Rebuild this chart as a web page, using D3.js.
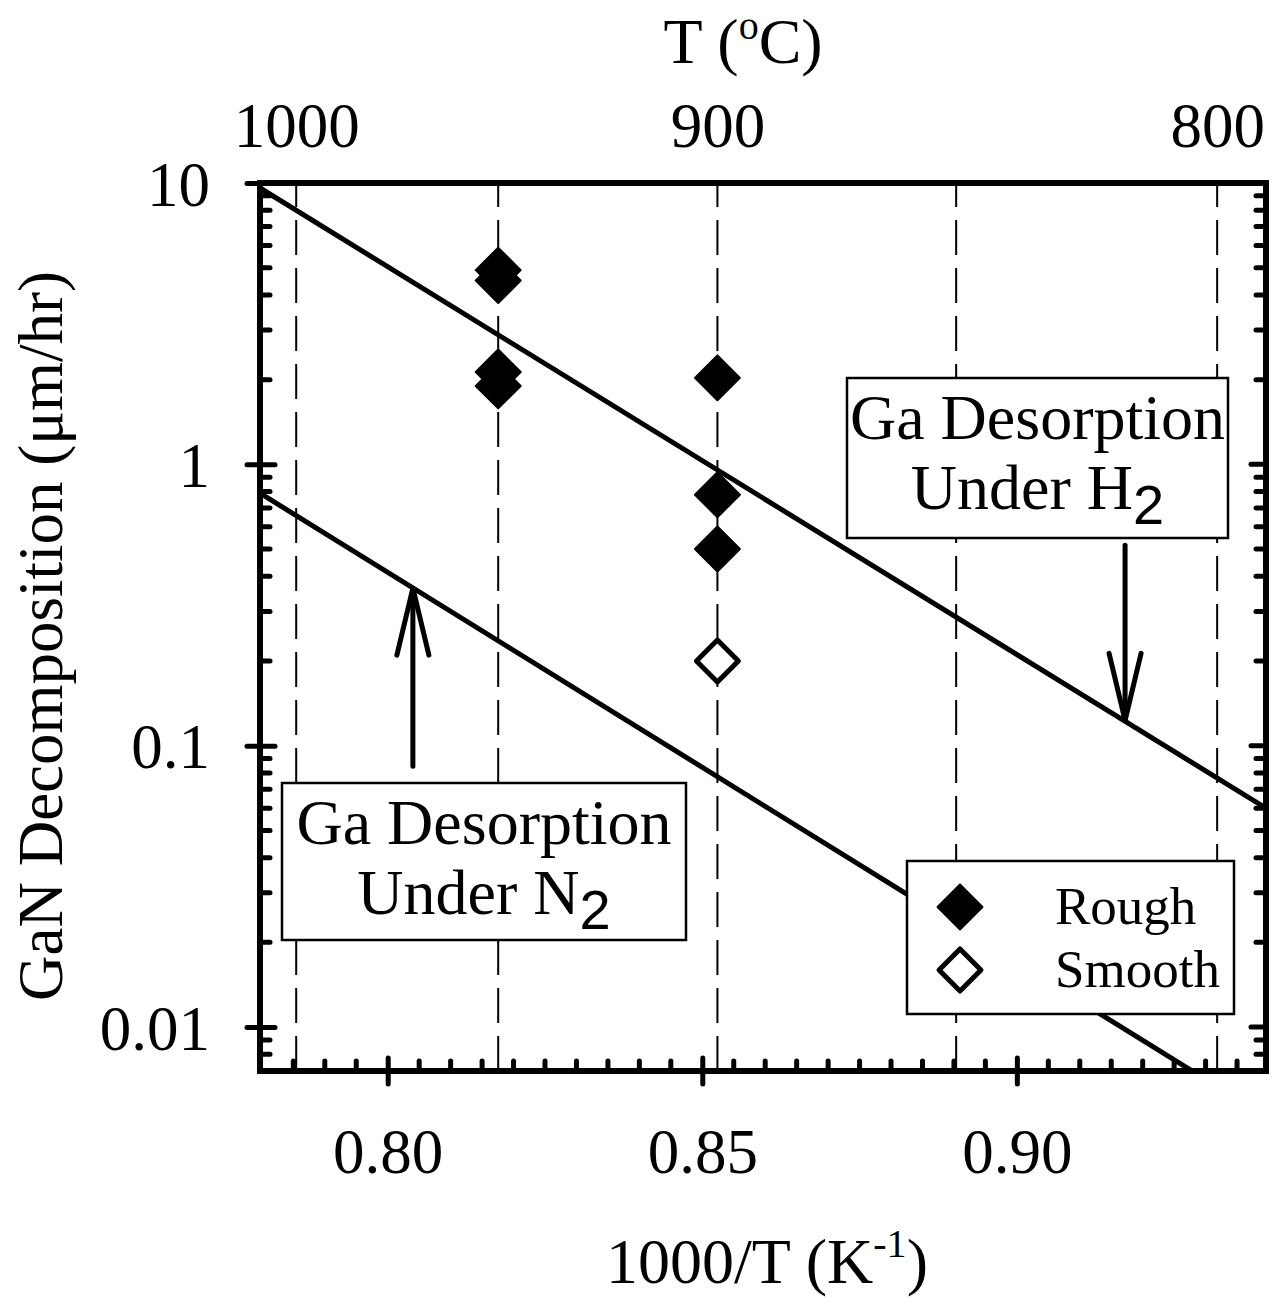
<!DOCTYPE html>
<html>
<head>
<meta charset="utf-8">
<script src="https://cdn.jsdelivr.net/npm/d3@7"></script>
<style>
  body { margin: 0; background: #fff; }
  text { font-family: "Liberation Serif", "Times New Roman", serif; fill: #000; }
</style>
</head>
<body>
<svg id="chart"></svg>
<script>
// bottom axis, 1000/T (K^-1)
var xMajorTicks = [0.80, 0.85, 0.90];
// left axis, decomposition rate (um/hr)
var yMajorTicks = [0.01, 0.1, 1, 10];
// top axis, temperature (deg C)
var tempTicks = [1000, 950, 900, 850, 800];
var tempLabels = [1000, 900, 800];

// measured points: Rough (filled) and Smooth (open)
var roughTemp = [950, 950, 950, 950, 900, 900, 900];
var roughRate = [4.9, 4.5, 2.13, 1.9, 2.03, 0.78, 0.50];
var smoothTemp = [900];
var smoothRate = [0.20];

// Ga desorption lines (1000/T, rate)
var h2LineX = [0.7797, 0.9396];
var h2LineY = [9.6, 0.060];
var n2LineX = [0.7797, 0.9396];
var n2LineY = [0.79, 0.0048];

window.onload = function () {
  var width = 1274, height = 1310;
  var margin = {top: 183, right: 8, bottom: 239, left: 260};
  var pw = width - margin.left - margin.right;
  var ph = height - margin.top - margin.bottom;
  var left = margin.left, top = margin.top, right = left + pw, bottom = top + ph;

  var svg = d3.select("#chart")
      .attr("width", width)
      .attr("height", height);
  svg.append("rect").attr("width", width).attr("height", height).attr("fill", "#fff");

  var x = d3.scaleLinear().domain([0.7797, 0.9396]).range([left, right]);
  var y = d3.scaleLog().domain([0.00698, 10]).range([bottom, top]);
  var invT = function (t) { return 1000 / (t + 273.15); };

  svg.append("clipPath").attr("id", "plotclip")
    .append("rect").attr("x", left).attr("y", top).attr("width", pw).attr("height", ph);

  // dashed temperature grid
  svg.append("g").selectAll("line")
      .data(tempTicks)
    .enter().append("line")
      .attr("x1", function(d) { return x(invT(d)); })
      .attr("x2", function(d) { return x(invT(d)); })
      .attr("y1", bottom).attr("y2", top)
      .attr("stroke", "#000")
      .attr("stroke-width", 2)
      .attr("stroke-dasharray", "35,13");

  // desorption lines
  var line = d3.line()
      .x(function(d) { return x(d[0]); })
      .y(function(d) { return y(d[1]); });
  var fits = [d3.zip(h2LineX, h2LineY), d3.zip(n2LineX, n2LineY)];
  svg.append("g").attr("clip-path", "url(#plotclip)")
    .selectAll("path")
      .data(fits)
    .enter().append("path")
      .attr("d", line)
      .attr("fill", "none")
      .attr("stroke", "#000")
      .attr("stroke-width", 5);

  // diamonds
  var diamond = d3.symbol().type(d3.symbolSquare);
  svg.append("g").selectAll("path")
      .data(d3.zip(roughTemp, roughRate))
    .enter().append("path")
      .attr("d", diamond.size(1010)())
      .attr("transform", function(d) { return "translate(" + x(invT(d[0])) + "," + y(d[1]) + ") rotate(45)"; })
      .attr("fill", "#000")
      .attr("stroke", "#000")
      .attr("stroke-width", 2)
      .attr("stroke-linejoin", "round");
  svg.append("g").selectAll("path")
      .data(d3.zip(smoothTemp, smoothRate))
    .enter().append("path")
      .attr("d", diamond.size(880)())
      .attr("transform", function(d) { return "translate(" + x(invT(d[0])) + "," + y(d[1]) + ") rotate(45)"; })
      .attr("fill", "#fff")
      .attr("stroke", "#000")
      .attr("stroke-width", 5)
      .attr("stroke-linejoin", "round");

  // annotation boxes
  var notes = [
    {x: 847, y: 378, w: 381, h: 160, gas: "H"},
    {x: 282, y: 783, w: 404, h: 157, gas: "N"}
  ];
  var note = svg.append("g").selectAll("g")
      .data(notes)
    .enter().append("g")
      .attr("transform", function(d) { return "translate(" + d.x + "," + d.y + ")"; });
  note.append("rect")
      .attr("width", function(d) { return d.w; })
      .attr("height", function(d) { return d.h; })
      .attr("fill", "#fff")
      .attr("stroke", "#000")
      .attr("stroke-width", 2.5);
  note.append("text")
      .attr("x", function(d) { return d.w / 2; })
      .attr("y", 61)
      .attr("text-anchor", "middle")
      .style("font-size", "64px")
      .text("Ga Desorption");
  var under = note.append("text")
      .attr("x", function(d) { return d.w / 2; })
      .attr("y", 131)
      .attr("text-anchor", "middle")
      .style("font-size", "64px");
  under.append("tspan").text(function(d) { return "Under " + d.gas; });
  under.append("tspan")
      .attr("dy", 15)
      .style("font-family", "'Liberation Sans', Arial, sans-serif")
      .style("font-size", "56px")
      .text("2");

  // arrows pointing at the lines
  var arrows = [
    {x: 0.9172, from: 0.516, to: 0.123},
    {x: 0.8040, from: 0.0846, to: 0.363}
  ];
  var arrow = svg.append("g").selectAll("g")
      .data(arrows)
    .enter().append("g")
      .attr("fill", "none")
      .attr("stroke", "#000")
      .attr("stroke-width", 5)
      .attr("stroke-linecap", "round")
      .attr("stroke-linejoin", "round");
  arrow.append("line")
      .attr("x1", function(d) { return x(d.x); })
      .attr("x2", function(d) { return x(d.x); })
      .attr("y1", function(d) { return y(d.from); })
      .attr("y2", function(d) { return y(d.to); });
  arrow.append("path")
      .attr("d", function(d) {
        var tx = x(d.x), ty = y(d.to);
        var s = y(d.from) > ty ? 1 : -1;
        return "M" + (tx - 16) + "," + (ty + s * 67) + "L" + tx + "," + ty + "L" + (tx + 16) + "," + (ty + s * 67);
      });

  // legend
  var legend = svg.append("g").attr("transform", "translate(907,861)");
  legend.append("rect")
      .attr("width", 327).attr("height", 153)
      .attr("fill", "#fff").attr("stroke", "#000").attr("stroke-width", 2.5);
  var legendItems = [
    {name: "Rough", fill: "#000", size: 1010, sw: 2},
    {name: "Smooth", fill: "#fff", size: 880, sw: 5}
  ];
  var li = legend.selectAll("g.item")
      .data(legendItems)
    .enter().append("g")
      .attr("class", "item")
      .attr("transform", function(d, i) { return "translate(0," + (46 + i * 63) + ")"; });
  li.append("path")
      .attr("d", function(d) { return diamond.size(d.size)(); })
      .attr("transform", "translate(53,0) rotate(45)")
      .attr("fill", function(d) { return d.fill; })
      .attr("stroke", "#000")
      .attr("stroke-width", function(d) { return d.sw; })
      .attr("stroke-linejoin", "round");
  li.append("text")
      .attr("x", 148)
      .attr("y", 17)
      .style("font-size", "53px")
      .text(function(d) { return d.name; });

  // frame
  svg.append("rect")
      .attr("x", left).attr("y", top).attr("width", pw).attr("height", ph)
      .attr("fill", "none").attr("stroke", "#000").attr("stroke-width", 6);

  var tickStyle = function (sel) {
    sel.attr("stroke", "#000").attr("stroke-width", 5).attr("stroke-linecap", "round");
  };

  // bottom axis
  var xMinor = d3.range(0.785, 0.9396, 0.005).filter(function(v) {
    return xMajorTicks.every(function(m) { return Math.abs(m - v) > 1e-6; });
  });
  svg.append("g").selectAll("line").data(xMinor).enter().append("line")
      .attr("x1", x).attr("x2", x)
      .attr("y1", bottom).attr("y2", bottom - 10)
      .call(tickStyle);
  var xAxis = svg.append("g")
      .attr("transform", "translate(0," + bottom + ")")
      .call(d3.axisBottom(x).tickValues(xMajorTicks).tickFormat(d3.format(".2f")).tickSize(13));
  xAxis.select(".domain").remove();
  xAxis.selectAll(".tick line").attr("y1", -13).call(tickStyle);
  xAxis.selectAll(".tick text")
      .attr("y", 102).attr("dy", 0)
      .style("font-family", "'Liberation Serif', serif")
      .style("font-size", "63px");

  // left / right axes
  var yMinor = [];
  [0.001, 0.01, 0.1, 1].forEach(function(dec) {
    for (var k = 2; k <= 9; k++) {
      var v = dec * k;
      if (v >= 0.00698 && v < 10) yMinor.push(v);
    }
  });
  svg.append("g").selectAll("line").data(yMinor).enter().append("line")
      .attr("x1", left).attr("x2", left + 10)
      .attr("y1", y).attr("y2", y)
      .call(tickStyle);
  svg.append("g").selectAll("line").data(yMinor).enter().append("line")
      .attr("x1", right).attr("x2", right - 10)
      .attr("y1", y).attr("y2", y)
      .call(tickStyle);
  svg.append("g").selectAll("line").data(yMajorTicks).enter().append("line")
      .attr("x1", right).attr("x2", right - 15)
      .attr("y1", y).attr("y2", y)
      .call(tickStyle);
  var yAxis = svg.append("g")
      .attr("transform", "translate(" + left + ",0)")
      .call(d3.axisLeft(y).tickValues(yMajorTicks).tickFormat(d3.format("~g")).tickSize(13));
  yAxis.select(".domain").remove();
  yAxis.selectAll(".tick line").attr("x1", 15).call(tickStyle);
  yAxis.selectAll(".tick text")
      .attr("x", -50).attr("dy", 22)
      .style("font-family", "'Liberation Serif', serif")
      .style("font-size", "63px");

  // top temperature axis (labels only)
  var topAxis = svg.append("g")
      .attr("transform", "translate(0," + top + ")")
      .call(d3.axisTop(x).tickValues(tempLabels.map(invT))
        .tickFormat(function(d) { return Math.round(1000 / d - 273.15); }).tickSize(0));
  topAxis.select(".domain").remove();
  topAxis.selectAll(".tick text")
      .attr("y", -36).attr("dy", 0)
      .style("font-family", "'Liberation Serif', serif")
      .style("font-size", "63px");

  // axis titles
  var tTitle = svg.append("text")
      .attr("x", 743).attr("y", 63)
      .attr("text-anchor", "middle")
      .style("font-size", "64px");
  tTitle.append("tspan").text("T (");
  tTitle.append("tspan").attr("dy", -24).style("font-size", "40px").text("o");
  tTitle.append("tspan").attr("dy", 24).text("C)");

  var xTitle = svg.append("text")
      .attr("x", 767).attr("y", 1283)
      .attr("text-anchor", "middle")
      .style("font-size", "64px");
  xTitle.append("tspan").text("1000/T (K");
  xTitle.append("tspan").attr("dy", -26).style("font-size", "40px").text("-1");
  xTitle.append("tspan").attr("dy", 26).text(")");

  svg.append("text")
      .attr("transform", "translate(62,636) rotate(-90)")
      .attr("text-anchor", "middle")
      .style("font-size", "63px")
      .text("GaN Decomposition (\u03bcm/hr)");
};
</script>
</body>
</html>
